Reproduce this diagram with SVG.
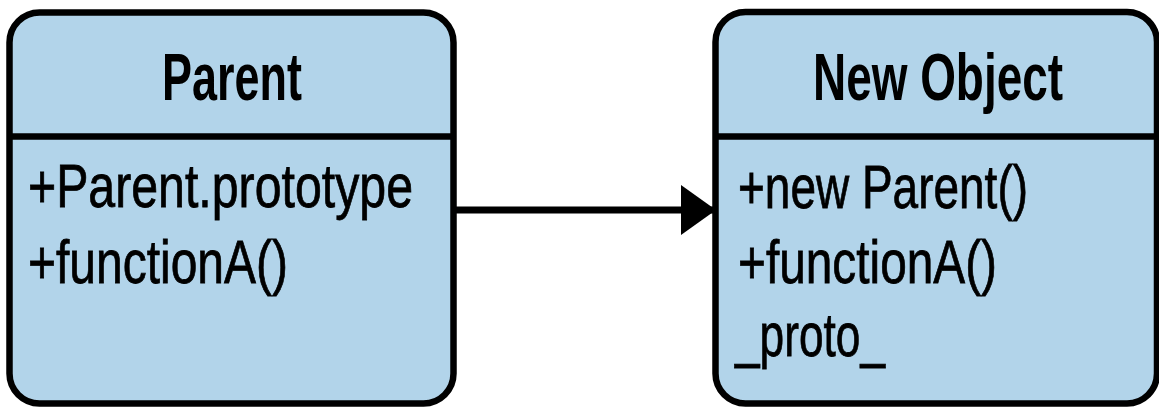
<svg xmlns="http://www.w3.org/2000/svg" width="1159" height="409" viewBox="0 0 1159 409">
  <style>
    .box { fill: #b2d4ea; stroke: #000; stroke-width: 6.5; }
    .div { stroke: #000; stroke-width: 6.5; }
    .title { font-family: "Liberation Sans", Arial, sans-serif; font-size: 67px; font-weight: bold; fill: #000; text-anchor: middle; }
    .body { font-family: "Liberation Sans", Arial, sans-serif; font-size: 62px; fill: #000; stroke: #000; stroke-width: 0.8; }
    .conn { stroke: #000; stroke-width: 7; fill: none; }
  </style>
  <defs>
    <marker id="arrow" markerUnits="userSpaceOnUse" markerWidth="36" markerHeight="52" refX="35" refY="25" orient="auto">
      <path d="M0,0 L35,25 L0,50 Z" fill="#000"/>
    </marker>
  </defs>
  <g id="node-parent">
    <rect class="box" x="9.5" y="12.5" width="444" height="391" rx="30" ry="30"/>
    <line class="div" x1="9.5" y1="136.5" x2="453.5" y2="136.5"/>
    <text class="title" x="232" y="100" textLength="140" lengthAdjust="spacingAndGlyphs">Parent</text>
    <text class="body" x="28" y="207" textLength="385" lengthAdjust="spacingAndGlyphs">+Parent.prototype</text>
    <text class="body" x="28" y="283" textLength="260" lengthAdjust="spacingAndGlyphs">+functionA()</text>
  </g>
  <g id="node-new-object">
    <rect class="box" x="715.5" y="12" width="441.5" height="391.5" rx="30" ry="30"/>
    <line class="div" x1="715.5" y1="136.5" x2="1157" y2="136.5"/>
    <text class="title" x="938" y="100" textLength="250" lengthAdjust="spacingAndGlyphs">New Object</text>
    <text class="body" x="738" y="208" textLength="290" lengthAdjust="spacingAndGlyphs">+new Parent()</text>
    <text class="body" x="738" y="283" textLength="259" lengthAdjust="spacingAndGlyphs">+functionA()</text>
    <text class="body" x="735" y="356" textLength="150" lengthAdjust="spacingAndGlyphs">_proto_</text>
  </g>
  <g id="connectors">
    <line class="conn" x1="456" y1="210" x2="716" y2="210" marker-end="url(#arrow)"/>
  </g>
</svg>
